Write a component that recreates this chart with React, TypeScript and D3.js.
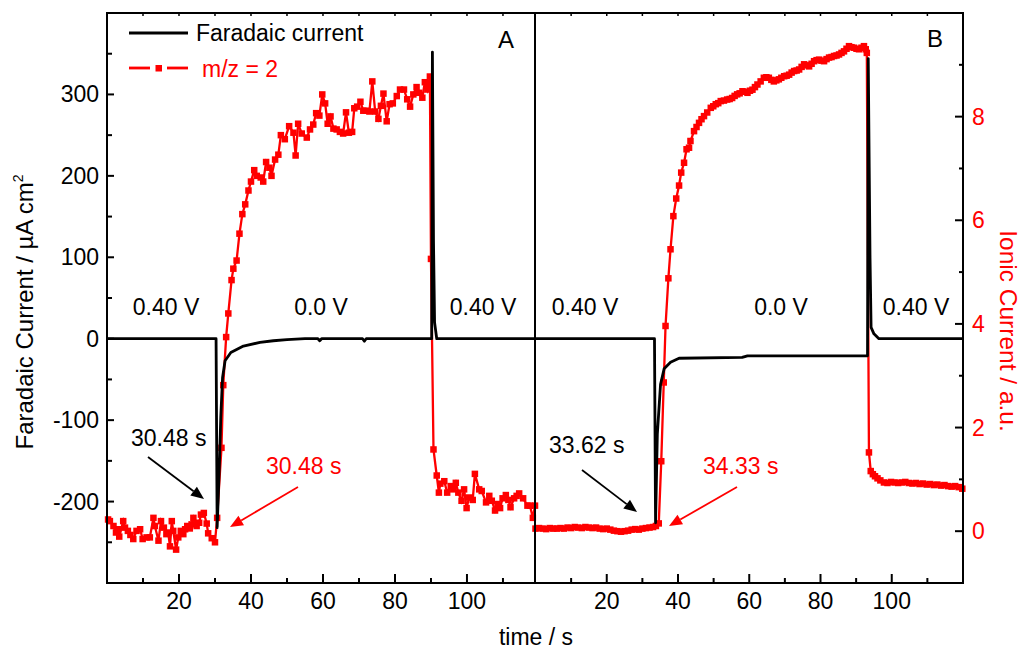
import React from 'react';
import * as d3 from 'd3';

// ---------- data ----------
const timeTicks = [20, 40, 60, 80, 100];
const timeMinor = [10, 30, 50, 70, 90, 110];
const topTicks = [10, 20, 30, 40, 50, 60, 70, 80, 90, 100, 110];
const faradaicTicks = [-200, -100, 0, 100, 200, 300];
const faradaicMajorTicks = [-300, -200, -100, 0, 100, 200, 300, 400];
const faradaicMinorTicks = [-250, -150, -50, 50, 150, 250, 350];
const ionicTicks = [0, 2, 4, 6, 8];
const ionicMajorTicks = [0, 2, 4, 6, 8, 10];
const ionicMinorTicks = [-1, 1, 3, 5, 7, 9];
const potentialLabels = ['0.40 V', '0.0 V', '0.40 V'];
const panelNames = ['A', 'B'];

// Panel A: Faradaic current (µA cm^-2) vs time (s)
const faradaicA: [number, number][] = [
  [0, 0], [30.3, 0], [30.6, -232], [31.2, -158], [31.6, -97], [32.1, -48], [32.8, -27],
  [34.4, -17], [37.9, -9], [42.5, -4.5], [46.2, -2.5], [50, -1], [55, 0], [58.6, 0],
  [59.1, -2.5], [59.6, 0], [71, 0], [71.5, -3], [72, 0], [90.2, 0], [90.4, 352],
  [90.7, 120], [91.0, 20], [91.6, 0], [118.9, 0],
];

// Panel A: m/z = 2 signal, expressed on the left-axis scale (as drawn)
const ionicA: [number, number][] = [
  [0.3, -222], [0.8, -224], [1.8, -230], [2.5, -238], [3.1, -234], [3.4, -243], [4.5, -224],
  [5.0, -232], [5.8, -236], [6.5, -241], [7.3, -246], [8.2, -236], [9.2, -234], [9.9, -246],
  [11.0, -244], [11.9, -244], [12.9, -220], [13.3, -230], [14.3, -248], [15.0, -224],
  [15.8, -232], [16.5, -240], [17.0, -238], [17.5, -255], [18.0, -224], [18.4, -236],
  [19.2, -259], [19.8, -244], [20.5, -236], [21.2, -240], [21.7, -234], [22.3, -230],
  [23.0, -233], [23.5, -228], [24.0, -220], [24.9, -230], [25.6, -226], [26.1, -216],
  [26.9, -214], [27.7, -227], [28.1, -239], [29.1, -245], [30.0, -250], [30.6, -220],
  [31.8, -134], [32.3, -57], [33.1, 2], [33.7, 31], [34.6, 72], [35.1, 86], [36.0, 96],
  [36.8, 129], [37.6, 153], [38.4, 165], [39.3, 182], [40.0, 193], [40.9, 207], [41.6, 200],
  [42.7, 198], [43.4, 193], [44.2, 217], [45.1, 210], [45.7, 200], [46.7, 220], [47.6, 226],
  [48.3, 250], [49.4, 245], [50.6, 261], [51.8, 253], [52.4, 225], [53.1, 264], [54.1, 252],
  [55.5, 247], [56.4, 257], [57.3, 263], [58.1, 277], [59.0, 274], [59.8, 300], [60.6, 289],
  [61.3, 264], [62.1, 273], [62.9, 258], [63.8, 257], [64.7, 254], [65.6, 252], [66.4, 278],
  [67.2, 253], [68.1, 254], [68.7, 283], [69.5, 285], [70.4, 291], [71.2, 280], [72.1, 280],
  [72.9, 279], [73.7, 316], [74.5, 279], [75.4, 270], [76.1, 286], [76.8, 301], [77.7, 267],
  [78.5, 288], [79.4, 289], [80.5, 298], [81.4, 306], [82.5, 306], [83.4, 294], [84.2, 285],
  [85.1, 300], [86.0, 309], [86.7, 302], [87.6, 296], [88.3, 315], [89.0, 306], [89.7, 322],
  [90.0, 98], [90.7, -136], [91.6, -168], [92.2, -189], [92.6, -178], [93.7, -175],
  [94.5, -189], [95.5, -181], [96.2, -185], [96.9, -177], [97.6, -189], [98.5, -199],
  [99.2, -185], [99.9, -208], [100.6, -195], [101.6, -198], [102.2, -166], [103.4, -185],
  [104.1, -187], [105.3, -201], [106.2, -193], [106.9, -199], [107.8, -211], [108.5, -203],
  [109.2, -208], [109.9, -196], [110.8, -192], [111.5, -198], [112.1, -207], [113.1, -196],
  [113.8, -193], [114.5, -190], [115.6, -196], [116.8, -205], [117.5, -205], [118.3, -220],
  [118.9, -205],
];

// Panel B: Faradaic current (µA cm^-2)
const faradaicB: [number, number][] = [
  [0, 0], [33.4, 0], [33.7, -226], [34.2, -117], [35.1, -56], [36.1, -37], [37.9, -29],
  [40.3, -24], [58, -23], [59.5, -21], [93.2, -21], [93.4, 344], [93.9, 100], [94.2, 14],
  [95.0, 6], [96.4, 0], [120, 0],
];

// Panel B: ionic current m/z = 2 (a.u., right axis)
const ionicB: [number, number][] = [
  [0, 0.05], [1, 0.06], [2, 0.05], [3, 0.04], [4, 0.06], [5, 0.05], [6, 0.05], [7, 0.06],
  [8, 0.05], [9, 0.07], [10, 0.06], [11, 0.08], [12, 0.07], [13, 0.06], [14, 0.08],
  [15, 0.07], [16, 0.06], [17, 0.07], [18, 0.05], [19, 0.04], [20, 0.05], [21, 0.03],
  [22, 0.01], [23, 0.0], [24, -0.01], [25, 0.0], [26, 0.01], [27, 0.03], [28, 0.04],
  [29, 0.03], [30, 0.05], [31, 0.06], [32, 0.07], [33, 0.08], [33.8, 0.1], [34.6, 0.15],
  [35.3, 1.35], [36.0, 2.87], [36.5, 3.96], [37.3, 4.88], [37.9, 5.44], [38.7, 6.08],
  [39.5, 6.42], [40.3, 6.67], [40.9, 6.92], [41.7, 7.11], [42.4, 7.37], [43.1, 7.4],
  [43.5, 7.53], [44.5, 7.72], [45.2, 7.8], [45.9, 7.88], [46.6, 7.95], [47.3, 8.01],
  [48.2, 8.08], [49.2, 8.17], [49.9, 8.2], [50.6, 8.24], [51.3, 8.26], [52.0, 8.3],
  [52.9, 8.31], [53.8, 8.33], [54.5, 8.34], [55.2, 8.36], [55.9, 8.4], [56.6, 8.43],
  [57.3, 8.45], [58.1, 8.49], [58.8, 8.48], [59.5, 8.46], [60.2, 8.5], [60.9, 8.52],
  [61.6, 8.57], [62.3, 8.62], [63.2, 8.68], [64.1, 8.75], [64.8, 8.76], [65.5, 8.75],
  [66.2, 8.71], [66.9, 8.68], [67.6, 8.7], [68.3, 8.72], [69.0, 8.75], [69.8, 8.78],
  [70.5, 8.79], [71.2, 8.81], [71.9, 8.85], [72.6, 8.88], [73.3, 8.89], [74.0, 8.91],
  [74.7, 8.96], [75.4, 9.01], [76.1, 8.99], [76.8, 8.97], [77.5, 9.02], [78.2, 9.07],
  [78.9, 9.09], [79.6, 9.1], [80.3, 9.08], [81.0, 9.07], [81.7, 9.11], [82.4, 9.14],
  [83.1, 9.15], [83.8, 9.17], [84.5, 9.18], [85.2, 9.2], [85.9, 9.23], [86.6, 9.26],
  [87.3, 9.31], [88.0, 9.36], [88.7, 9.34], [89.4, 9.33], [90.1, 9.31], [90.8, 9.3],
  [91.5, 9.33], [92.2, 9.36], [92.7, 9.3], [93.0, 9.23], [93.6, 1.52], [94.1, 1.16],
  [94.7, 1.1], [95.3, 1.06], [96.0, 1.02], [96.8, 0.98], [97.8, 0.94], [98.8, 0.93],
  [99.8, 0.95], [100.8, 0.94], [101.8, 0.93], [102.8, 0.94], [103.8, 0.95], [104.8, 0.93],
  [105.8, 0.92], [106.8, 0.93], [107.8, 0.91], [108.8, 0.92], [109.8, 0.9], [110.8, 0.91],
  [111.8, 0.89], [112.8, 0.9], [113.8, 0.88], [114.8, 0.89], [115.8, 0.87], [116.8, 0.86],
  [117.8, 0.87], [118.8, 0.85], [119.8, 0.82],
];

// ---------- layout ----------
const W = 1023;
const H = 657;
const L = 107;
const MID = 535;
const R = 963;
const T = 13;
const B = 583;
const FONT = "'Liberation Sans', Arial, Helvetica, sans-serif";
const RED = '#ff0000';

const xA = d3.scaleLinear().domain([0, 118.9]).range([L, MID]);
const xB = d3.scaleLinear().domain([0, 120]).range([MID + 0.5, R]);
const yL = d3.scaleLinear().domain([-300, 400]).range([B, T]);
const yR = d3.scaleLinear().domain([-1, 10]).range([B, T]);

const mk = (x: d3.ScaleLinear<number, number>, y: d3.ScaleLinear<number, number>) =>
  d3.line<[number, number]>().x((d) => x(d[0])).y((d) => y(d[1]));

const Markers = ({ data, x, y, s }: any) => (
  <g fill={RED}>
    {data.map((d: [number, number], i: number) => (
      <rect key={i} x={x(d[0]) - s / 2} y={y(d[1]) - s / 2} width={s} height={s} />
    ))}
  </g>
);

const Arrow = ({ x1, y1, x2, y2, color }: any) => {
  const ang = Math.atan2(y2 - y1, x2 - x1);
  const hl = 13;
  const hw = 5.5;
  const bx = x2 - hl * Math.cos(ang);
  const by = y2 - hl * Math.sin(ang);
  const px = -Math.sin(ang) * hw;
  const py = Math.cos(ang) * hw;
  return (
    <g>
      <line x1={x1} y1={y1} x2={bx} y2={by} stroke={color} strokeWidth={1.8} />
      <polygon points={`${x2},${y2} ${bx + px},${by + py} ${bx - px},${by - py}`} fill={color} />
    </g>
  );
};

export default function App() {
  const lineA = mk(xA, yL);
  const lineB = mk(xB, yL);
  const lineBi = mk(xB, yR);

  const bottomTicks = (x: d3.ScaleLinear<number, number>, keyp: string) => (
    <g key={keyp}>
      {timeTicks.map((t) => (
        <line key={'M' + t} x1={x(t)} x2={x(t)} y1={B} y2={B - 9} stroke="#000" strokeWidth={2} />
      ))}
      {timeMinor.map((t) => (
        <line key={'m' + t} x1={x(t)} x2={x(t)} y1={B} y2={B - 5} stroke="#000" strokeWidth={2} />
      ))}
      {topTicks.map((t) => (
        <line key={'t' + t} x1={x(t)} x2={x(t)} y1={T} y2={T + 3} stroke="#000" strokeWidth={1.5} />
      ))}
      {timeTicks.map((t) => (
        <text key={'l' + t} x={x(t)} y={609} textAnchor="middle">{t}</text>
      ))}
    </g>
  );

  const potY = 315;
  return (
    <div style={{ position: 'fixed', left: 0, top: 0 }}>
      <svg width={W} height={H} style={{ display: 'block', background: '#fff' }} fontFamily={FONT} fontSize={23}>
        <rect width={W} height={H} fill="#fff" />

        {/* data panel A */}
        <path d={lineA(ionicA) || ''} fill="none" stroke={RED} strokeWidth={2.3} />
        <Markers data={ionicA} x={xA} y={yL} s={6.5} />
        <path d={lineA(faradaicA) || ''} fill="none" stroke="#000" strokeWidth={2.8} strokeLinejoin="round" />

        {/* data panel B */}
        <path d={lineBi(ionicB) || ''} fill="none" stroke={RED} strokeWidth={2.3} />
        <Markers data={ionicB} x={xB} y={yR} s={6.5} />
        <path d={lineB(faradaicB) || ''} fill="none" stroke="#000" strokeWidth={2.8} strokeLinejoin="round" />

        {/* frame */}
        <rect x={L} y={T} width={R - L} height={B - T} fill="none" stroke="#000" strokeWidth={2} />
        <line x1={MID} x2={MID} y1={T} y2={B} stroke="#000" strokeWidth={2} />

        {/* x ticks */}
        {bottomTicks(xA, 'a')}
        {bottomTicks(xB, 'b')}

        {/* left axis */}
        {faradaicMajorTicks.map((v) => (
          <line key={'lm' + v} x1={L} x2={L + 7} y1={yL(v)} y2={yL(v)} stroke="#000" strokeWidth={2} />
        ))}
        {faradaicMinorTicks.map((v) => (
          <line key={'ln' + v} x1={L} x2={L + 5} y1={yL(v)} y2={yL(v)} stroke="#000" strokeWidth={2} />
        ))}
        {faradaicTicks.map((v) => (
          <text key={'ll' + v} x={99} y={yL(v) + 8} textAnchor="end">{v}</text>
        ))}

        {/* right axis */}
        {ionicMajorTicks.map((v) => (
          <line key={'rm' + v} x1={R} x2={R - 8} y1={yR(v)} y2={yR(v)} stroke="#000" strokeWidth={2} />
        ))}
        {ionicMinorTicks.map((v) => (
          <line key={'rn' + v} x1={R} x2={R - 4} y1={yR(v)} y2={yR(v)} stroke="#000" strokeWidth={2} />
        ))}
        {ionicTicks.map((v) => (
          <text key={'rl' + v} x={972} y={yR(v) + 8} fill={RED}>{v}</text>
        ))}

        {/* axis titles */}
        <text x={536} y={645} textAnchor="middle">time / s</text>
        <text transform="translate(33,312) rotate(-90)" textAnchor="middle" fontSize={24}>
          Faradaic Current / µA cm<tspan fontSize={14} dy={-10}>2</tspan>
        </text>
        <text transform="translate(1000,331) rotate(90)" textAnchor="middle" fontSize={24.5} fill={RED}>
          Ionic Current / a.u.
        </text>

        {/* potentials */}
        <text x={166} y={potY} textAnchor="middle">{potentialLabels[0]}</text>
        <text x={321} y={potY} textAnchor="middle">{potentialLabels[1]}</text>
        <text x={483} y={potY} textAnchor="middle">{potentialLabels[2]}</text>
        <text x={585} y={potY} textAnchor="middle">{potentialLabels[0]}</text>
        <text x={781} y={potY} textAnchor="middle">{potentialLabels[1]}</text>
        <text x={916} y={potY} textAnchor="middle">{potentialLabels[2]}</text>

        {/* panel letters */}
        <text x={498} y={48} fontSize={24}>{panelNames[0]}</text>
        <text x={927} y={47} fontSize={24}>{panelNames[1]}</text>

        {/* annotations */}
        <text x={131} y={446}>30.48 s</text>
        <Arrow x1={148} y1={457} x2={204} y2={499} color="#000" />
        <text x={266} y={474} fill={RED}>30.48 s</text>
        <Arrow x1={298} y1={487} x2={230} y2={527} color={RED} />
        <text x={549} y={453}>33.62 s</text>
        <Arrow x1={582} y1={470} x2={637} y2={512} color="#000" />
        <text x={703} y={474} fill={RED}>34.33 s</text>
        <Arrow x1={737} y1={487} x2={669} y2={526} color={RED} />

        {/* legend */}
        <line x1={129} x2={188} y1={33} y2={33} stroke="#000" strokeWidth={2.8} />
        <text x={196} y={41}>Faradaic current</text>
        <line x1={129} x2={150} y1={68} y2={68} stroke={RED} strokeWidth={2.8} />
        <rect x={155.5} y={65} width={6.5} height={6.5} fill={RED} />
        <line x1={167} x2={188} y1={68} y2={68} stroke={RED} strokeWidth={2.8} />
        <text x={202} y={77} fill={RED}>m/z = 2</text>
      </svg>
    </div>
  );
}
